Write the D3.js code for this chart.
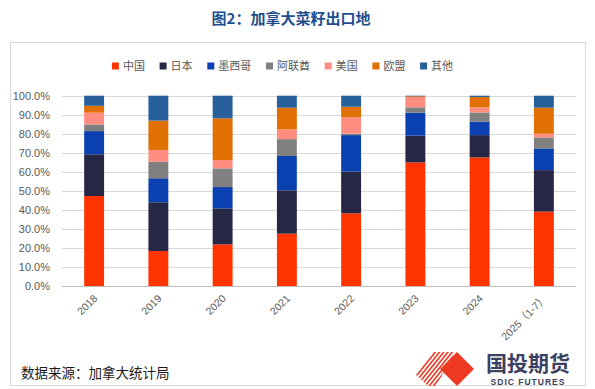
<!DOCTYPE html>
<html><head><meta charset="utf-8">
<script src="https://cdn.jsdelivr.net/npm/d3@7"></script>
<style>
html,body{margin:0;padding:0;background:#fff;}
svg{display:block;font-family:"Noto Sans CJK SC","Noto Sans",sans-serif;}
</style></head>
<body>
<svg id="c" width="595" height="389"></svg>
<script>
const categories = ["2018","2019","2020","2021","2022","2023","2024","2025（1-7）"];
const seriesNames = ["中国","日本","墨西哥","阿联酋","美国","欧盟","其他"];
const china  = [47.3,18.4,21.9,27.5,38.2,65.0,67.6,39.1];
const japan  = [21.9,25.6,18.9,22.8,21.9,14.0,11.7,21.8];
const mexico = [12.2,12.6,11.2,18.0,19.2,12.1, 7.0,11.4];
const uae    = [ 3.5, 8.7, 9.8, 8.9, 0.7, 2.8, 4.9, 5.8];
const usa    = [ 6.2, 6.2, 4.4, 5.1, 8.6, 5.4, 2.7, 1.9];
const eu     = [ 3.6,15.4,21.9,11.4, 5.6, 0.4, 5.4,13.7];
const other  = [ 5.3,13.1,11.9, 6.3, 5.8, 0.3, 0.7, 6.3];
const yTicks = [0,0.1,0.2,0.3,0.4,0.5,0.6,0.7,0.8,0.9,1.0];
const titleText = "图2：加拿大菜籽出口地";
const sourceText = "数据来源：加拿大统计局";

const seriesValues = [china,japan,mexico,uae,usa,eu,other];
const colors = ["#ff3300","#262645","#0b40b0","#808080","#ff8d80","#e07000","#27609a"];

const rows = categories.map((c,i)=>{
  const r = {cat:c};
  seriesNames.forEach((s,j)=>{ r[s] = seriesValues[j][i]/100; });
  return r;
});

const svg = d3.select("#c");

// outer frame
svg.append("rect").attr("x",10.5).attr("y",42.5).attr("width",575).attr("height",343)
  .attr("fill","#fff").attr("stroke","#d9d9d9").attr("stroke-width",1);

// title
svg.append("text").attr("x",291).attr("y",24).attr("text-anchor","middle")
  .attr("font-size",15).attr("font-weight","bold").attr("fill","#1f4e8f")
  .text(titleText);

const x = d3.scaleBand().domain(categories).range([62,576]).paddingInner(0.69).paddingOuter(0.345);
const y = d3.scaleLinear().domain([0,1]).range([286,95.7]);

// grid
svg.append("g").selectAll("line").data(yTicks).join("line")
  .attr("x1",62).attr("x2",576)
  .attr("y1",d=>Math.round(y(d))+0.5).attr("y2",d=>Math.round(y(d))+0.5)
  .attr("stroke",d=>d===0?"#bfbfbf":"#d9d9d9").attr("stroke-width",1);

// y axis
const yAxis = svg.append("g").attr("transform","translate(62,0)")
  .call(d3.axisLeft(y).tickValues(yTicks).tickFormat(d3.format(".1%")).tickSize(0).tickPadding(12));
yAxis.select(".domain").remove();
yAxis.selectAll("text").attr("font-size",11).attr("fill","#595959")
  .attr("font-family","'Liberation Sans',Arial,sans-serif");

// stacked bars
const stack = d3.stack().keys(seriesNames);
const stacked = stack(rows);
svg.append("g").selectAll("g").data(stacked).join("g")
  .attr("fill",(d,i)=>colors[i])
  .selectAll("rect").data(d=>d).join("rect")
  .attr("x",d=>x(d.data.cat))
  .attr("width",x.bandwidth())
  .attr("y",d=>y(d[1]))
  .attr("height",d=>Math.max(0,y(d[0])-y(d[1])));

// x labels
const xl = svg.append("g");
categories.forEach(c=>{
  const cx = x(c)+x.bandwidth()/2;
  xl.append("text")
    .attr("transform",`translate(${cx+4},${299}) rotate(-45)`)
    .attr("text-anchor","end").attr("font-size",10.5).attr("fill","#595959")
    .attr("font-family","'Liberation Sans','Noto Sans CJK SC',sans-serif")
    .text(c);
});

// legend
const leg = svg.append("g");
const sw = 7, tg = 4, sp = 14.7;
const widths = seriesNames.map(s=>s.length*11);
const total = d3.sum(widths) + seriesNames.length*(sw+tg) + (seriesNames.length-1)*sp;
let lx = 282.5 - total/2;
seriesNames.forEach((s,i)=>{
  leg.append("rect").attr("x",lx).attr("y",62.5).attr("width",sw).attr("height",sw).attr("fill",colors[i]);
  leg.append("text").attr("x",lx+sw+tg).attr("y",70).attr("font-size",11).attr("fill","#595959").text(s);
  lx += sw+tg+widths[i]+sp;
});

// source
svg.append("text").attr("x",21).attr("y",378).attr("font-size",13.5).attr("fill","#1a1a1a").text(sourceText);

// logo
const logo = svg.append("g");
const defs = svg.append("defs");
defs.append("clipPath").attr("id","stripeClip").append("path")
  .attr("d","M413,372 L432,352 L455,352 L436,386 L428,386 Z");
const sg = logo.append("g").attr("clip-path","url(#stripeClip)");
for(let k=0;k<10;k++){
  const x0 = 405 + k*4.2;
  sg.append("line").attr("x1",x0).attr("y1",390).attr("x2",x0+32).attr("y2",350)
    .attr("stroke","#ee3a24").attr("stroke-width",1.6);
}
logo.append("path").attr("d","M457,352 L474,369 L457,386 L440,369 Z").attr("fill","#ee3a24");
logo.append("text").attr("x",528).attr("y",371).attr("text-anchor","middle")
  .attr("font-size",21).attr("font-weight","bold").attr("fill","#3c4060").text("国投期货");
logo.append("text").attr("x",528).attr("y",385).attr("text-anchor","middle")
  .attr("font-size",8.5).attr("font-weight","bold").attr("fill","#3c4060")
  .attr("font-family","'Liberation Sans',Arial,sans-serif").attr("letter-spacing",1).text("SDIC FUTURES");
</script>
</body></html>
